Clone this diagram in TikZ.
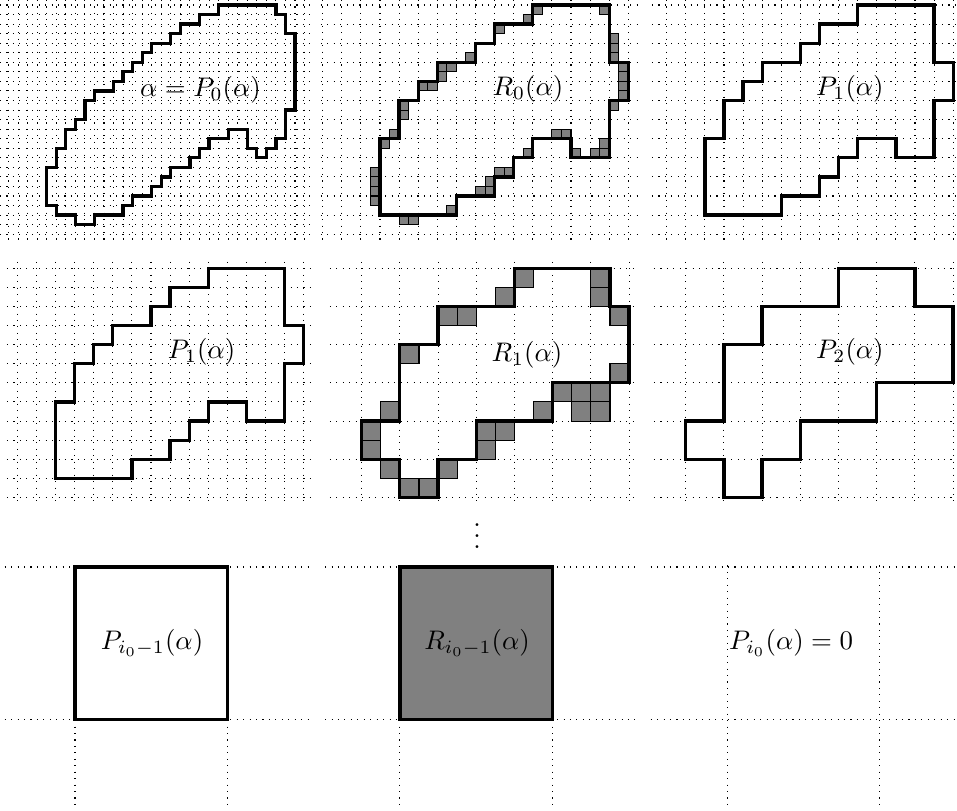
\documentclass[tikz,border=0pt]{standalone}
\usepackage{amsmath}
\usepackage{tikz}

\begin{document}
\begin{tikzpicture}[x=0.125cm,y=0.125cm,yscale=-1,
        gridline/.style={dotted,line width=0.4pt},
        boundary/.style={line width=1.2pt},
        cellbox/.style={draw,line width=0.4pt,fill=gray}]
  \useasboundingbox (0,0) rectangle (100.21,84.82);
  % first row: P_0, R_0, P_1
  \begin{scope}[shift={(4.890,0.524)}]
    \draw[gridline,step=1] (-4.89,-0.52) grid (27.6,24.7);
    \draw[boundary] (18,0) -- (24,0) -- (24,1) -- (25,1) -- (25,3) -- (26,3) -- (26,11) -- (25,11) -- (25,14) -- (24,14) -- (24,15) -- (23,15) -- (23,16) -- (22,16) -- (22,15) -- (21,15) -- (21,13) -- (19,13) -- (19,14) -- (17,14) -- (17,15) -- (16,15) -- (16,16) -- (15,16) -- (15,17) -- (13,17) -- (13,18) -- (12,18) -- (12,19) -- (11,19) -- (11,20) -- (9,20) -- (9,21) -- (8,21) -- (8,22) -- (5,22) -- (5,23) -- (3,23) -- (3,22) -- (1,22) -- (1,21) -- (0,21) -- (0,17) -- (1,17) -- (1,15) -- (2,15) -- (2,13) -- (3,13) -- (3,12) -- (4,12) -- (4,10) -- (5,10) -- (5,9) -- (7,9) -- (7,8) -- (8,8) -- (8,7) -- (9,7) -- (9,6) -- (10,6) -- (10,5) -- (11,5) -- (11,4) -- (13,4) -- (13,3) -- (14,3) -- (14,2) -- (16,2) -- (16,1) -- (18,1) -- cycle;
  \end{scope}
  \node (pzero) at (20.99,9.42) {$\alpha = P_0(\alpha)$};

  \begin{scope}[shift={(37.79,0.524)}]
    \draw[gridline,step=2] (-4.2,-0.52) grid (28.9,24.7);
    \foreach \c/\r in {18/0,17/1,14/2,11/5,8/6,9/6,8/7,6/8,7/8,4/10,4/11,3/13,2/14,
                       1/17,1/18,1/19,1/20,4/22,5/22,9/21,12/19,13/19,13/18,14/17,15/17,
                       17/15,20/13,21/13,22/15,24/15,25/14,25/15,26/10,27/6,27/7,27/8,27/9,
                       26/3,26/4,26/5,25/0}
      \draw[cellbox] (\c,\r) rectangle ++(1,1);
    \draw[boundary] (18,0) -- (26,0) -- (26,6) -- (28,6) -- (28,10) -- (26,10) -- (26,16) -- (22,16) -- (22,14) -- (18,14) -- (18,16) -- (16,16) -- (16,18) -- (14,18) -- (14,20) -- (10,20) -- (10,22) -- (2,22) -- (2,14) -- (4,14) -- (4,10) -- (6,10) -- (6,8) -- (8,8) -- (8,6) -- (12,6) -- (12,4) -- (14,4) -- (14,2) -- (18,2) -- cycle;
  \end{scope}
  \node (rzero) at (55.29,9.32) {$R_0(\alpha)$};

  \begin{scope}[shift={(69.81,0.524)},scale=2]
    \draw[gridline,step=1] (-0.77,-0.26) grid (15.2,12.36);
    \draw[boundary] (10,0) -- (14,0) -- (14,3) -- (15,3) -- (15,5) -- (14,5) -- (14,8) -- (12,8) -- (12,7) -- (10,7) -- (10,8) -- (9,8) -- (9,9) -- (8,9) -- (8,10) -- (6,10) -- (6,11) -- (2,11) -- (2,7) -- (3,7) -- (3,5) -- (4,5) -- (4,4) -- (5,4) -- (5,3) -- (7,3) -- (7,2) -- (8,2) -- (8,1) -- (10,1) -- cycle;
  \end{scope}
  \node (pone) at (89.0,9.32) {$P_1(\alpha)$};

  % second row: P_1, R_1, P_2
  \begin{scope}[shift={(1.812,28.09)},scale=2]
    \draw[gridline,step=1] (-0.54,-0.33) grid (15.43,12.29);
    \draw[boundary] (10,0) -- (14,0) -- (14,3) -- (15,3) -- (15,5) -- (14,5) -- (14,8) -- (12,8) -- (12,7) -- (10,7) -- (10,8) -- (9,8) -- (9,9) -- (8,9) -- (8,10) -- (6,10) -- (6,11) -- (2,11) -- (2,7) -- (3,7) -- (3,5) -- (4,5) -- (4,4) -- (5,4) -- (5,3) -- (7,3) -- (7,2) -- (8,2) -- (8,1) -- (10,1) -- cycle;
  \end{scope}
  \node (ponebis) at (21.1,36.86) {$P_1(\alpha)$};

  \begin{scope}[shift={(37.87,28.09)},scale=2]
    \draw[gridline,step=2] (-1.66,-0.33) grid (14.36,12.29);
    \foreach \c/\r in {8/0,7/1,12/0,12/1,4/2,5/2,13/2,2/4,13/5,10/6,11/6,12/6,11/7,12/7,
                       9/7,1/7,0/8,0/9,6/8,7/8,6/9,1/10,4/10,2/11,3/11}
      \draw[cellbox] (\c,\r) rectangle ++(1,1);
    \draw[boundary] (8,0) -- (13,0) -- (13,2) -- (14,2) -- (14,6) -- (10,6) -- (10,8) -- (6,8) -- (6,10) -- (4,10) -- (4,12) -- (2,12) -- (2,10) -- (0,10) -- (0,8) -- (2,8) -- (2,4) -- (4,4) -- (4,2) -- (8,2) -- cycle;
  \end{scope}
  \node (rone) at (55.18,37.17) {$R_1(\alpha)$};

  \begin{scope}[shift={(71.80,28.09)},scale=4]
    \draw[gridline,step=1] (-0.83,-0.165) grid (7.1,6.14);
    \draw[boundary] (4,0) -- (6,0) -- (6,1) -- (7,1) -- (7,3) -- (5,3) -- (5,4) -- (3,4) -- (3,5) -- (2,5) -- (2,6) -- (1,6) -- (1,5) -- (0,5) -- (0,4) -- (1,4) -- (1,2) -- (2,2) -- (2,1) -- (4,1) -- cycle;
  \end{scope}
  \node (ptwo) at (89.0,36.86) {$P_2(\alpha)$};

  \node (dots) at (49.95,55.3) {$\vdots$};

  % last row
  \begin{scope}[shift={(7.853,59.37)},scale=16]
    \draw[gridline,step=1] (-0.46,-0.01) grid (1.54,1.59);
    \draw[boundary,fill=white] (0,0) rectangle (1,1);
  \end{scope}
  \node (plast) at (15.92,67.33) {$P_{i_0-1}(\alpha)$};

  \begin{scope}[shift={(41.88,59.37)},scale=16]
    \draw[gridline,step=1] (-0.49,-0.01) grid (1.57,1.59);
    \draw[boundary,fill=gray] (0,0) rectangle (1,1);
  \end{scope}
  \node (rlast) at (49.95,67.33) {$R_{i_0-1}(\alpha)$};

  \begin{scope}[shift={(76.13,59.37)},scale=16]
    \draw[gridline,step=1] (-0.5,-0.01) grid (1.5,1.59);
  \end{scope}
  \node (pend) at (82.83,67.33) {$P_{i_0}(\alpha) = 0$};
\end{tikzpicture}
\end{document}
